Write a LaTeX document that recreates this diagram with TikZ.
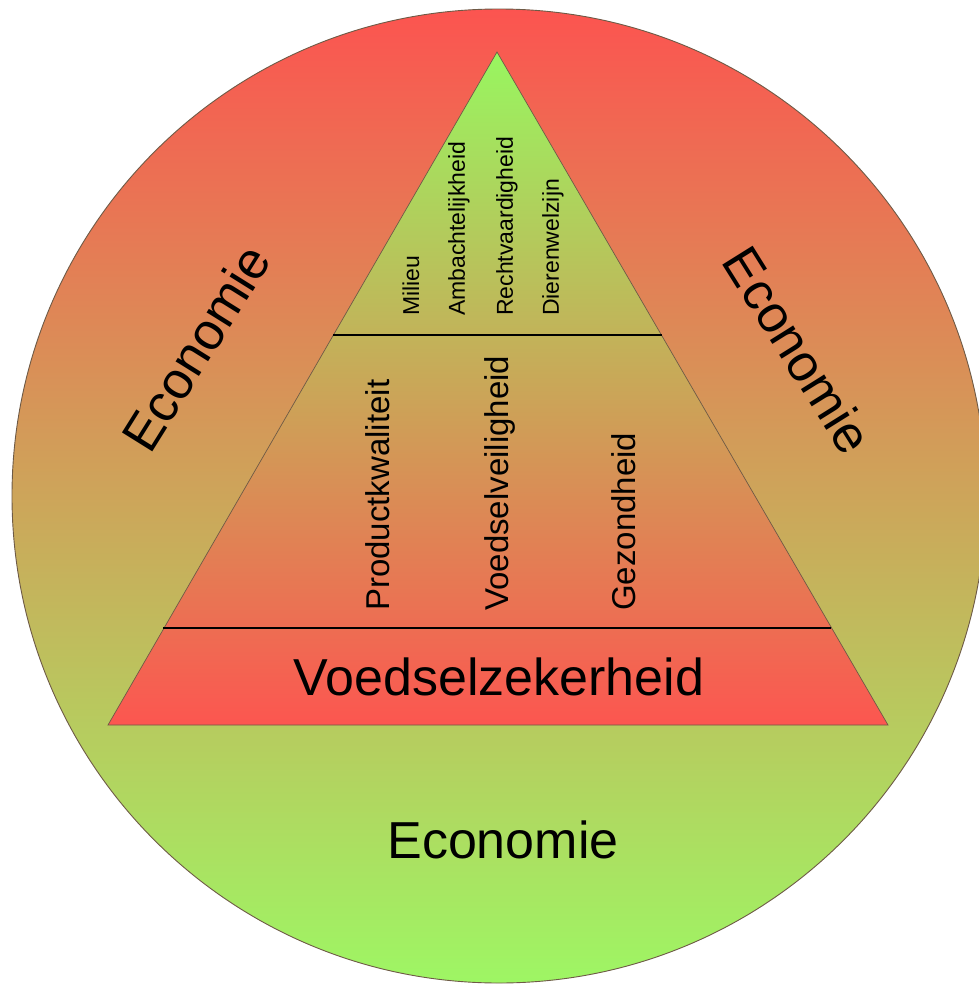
\documentclass[tikz,border=0pt]{standalone}
\usepackage{fontspec}
\setmainfont{Liberation Sans}
\definecolor{redtop}{RGB}{252,84,80}
\definecolor{greenbot}{RGB}{158,246,100}
\definecolor{triapex}{RGB}{152,246,96}
\definecolor{tribase}{RGB}{252,86,80}
\definecolor{edgecol}{RGB}{110,90,70}
\tikzset{
  bigtxt/.style={font=\fontsize{52}{60}\selectfont, inner sep=0pt},
  midtxt/.style={font=\fontsize{33}{40}\selectfont, inner sep=0pt, rotate=90, anchor=west},
  smalltxt/.style={font=\fontsize{23}{28}\selectfont, inner sep=0pt, rotate=90, anchor=west},
  bandline/.style={draw=black, line width=1.4pt}
}
\begin{document}
\begin{tikzpicture}[x=1pt,y=-1pt]
\useasboundingbox (0,0) rectangle (978,985);
% circle
\shade[top color=redtop, bottom color=greenbot] (499,496) circle (487);
\draw[edgecol, line width=0.9pt] (499,496) circle (487);
% triangle
\coordinate (apex) at (497,52);
\coordinate (bl) at (108,725);
\coordinate (br) at (888,725);
\shade[top color=triapex, bottom color=tribase] (apex) -- (br) -- (bl) -- cycle;
\draw[edgecol, line width=0.7pt] (apex) -- (br) -- (bl) -- cycle;
% band lines
\coordinate (u1) at (333,335);
\coordinate (u2) at (662,335);
\coordinate (m1) at (163,628);
\coordinate (m2) at (831,628);
\draw[bandline] (u1) -- (u2);
\draw[bandline] (m1) -- (m2);
% texts
\node[bigtxt] (vz) at (499,677) {Voedselzekerheid};
\node[bigtxt] (ecb) at (503,840) {Economie};
\node[bigtxt, rotate=58] (ecl) at (196,348) {Economie};
\node[bigtxt, rotate=-58] (ecr) at (798,350) {Economie};
\node[midtxt] (pk) at (378,611) {Productkwaliteit};
\node[midtxt] (vv) at (500,611) {Voedselveiligheid};
\node[midtxt] (gz) at (624,611) {Gezondheid};
\node[smalltxt] (mi) at (411,316) {Milieu};
\node[smalltxt] (am) at (459,316) {Ambachtelijkheid};
\node[smalltxt] (re) at (507,316) {Rechtvaardigheid};
\node[smalltxt] (di) at (553,316) {Dierenwelzijn};
\end{tikzpicture}
\end{document}
